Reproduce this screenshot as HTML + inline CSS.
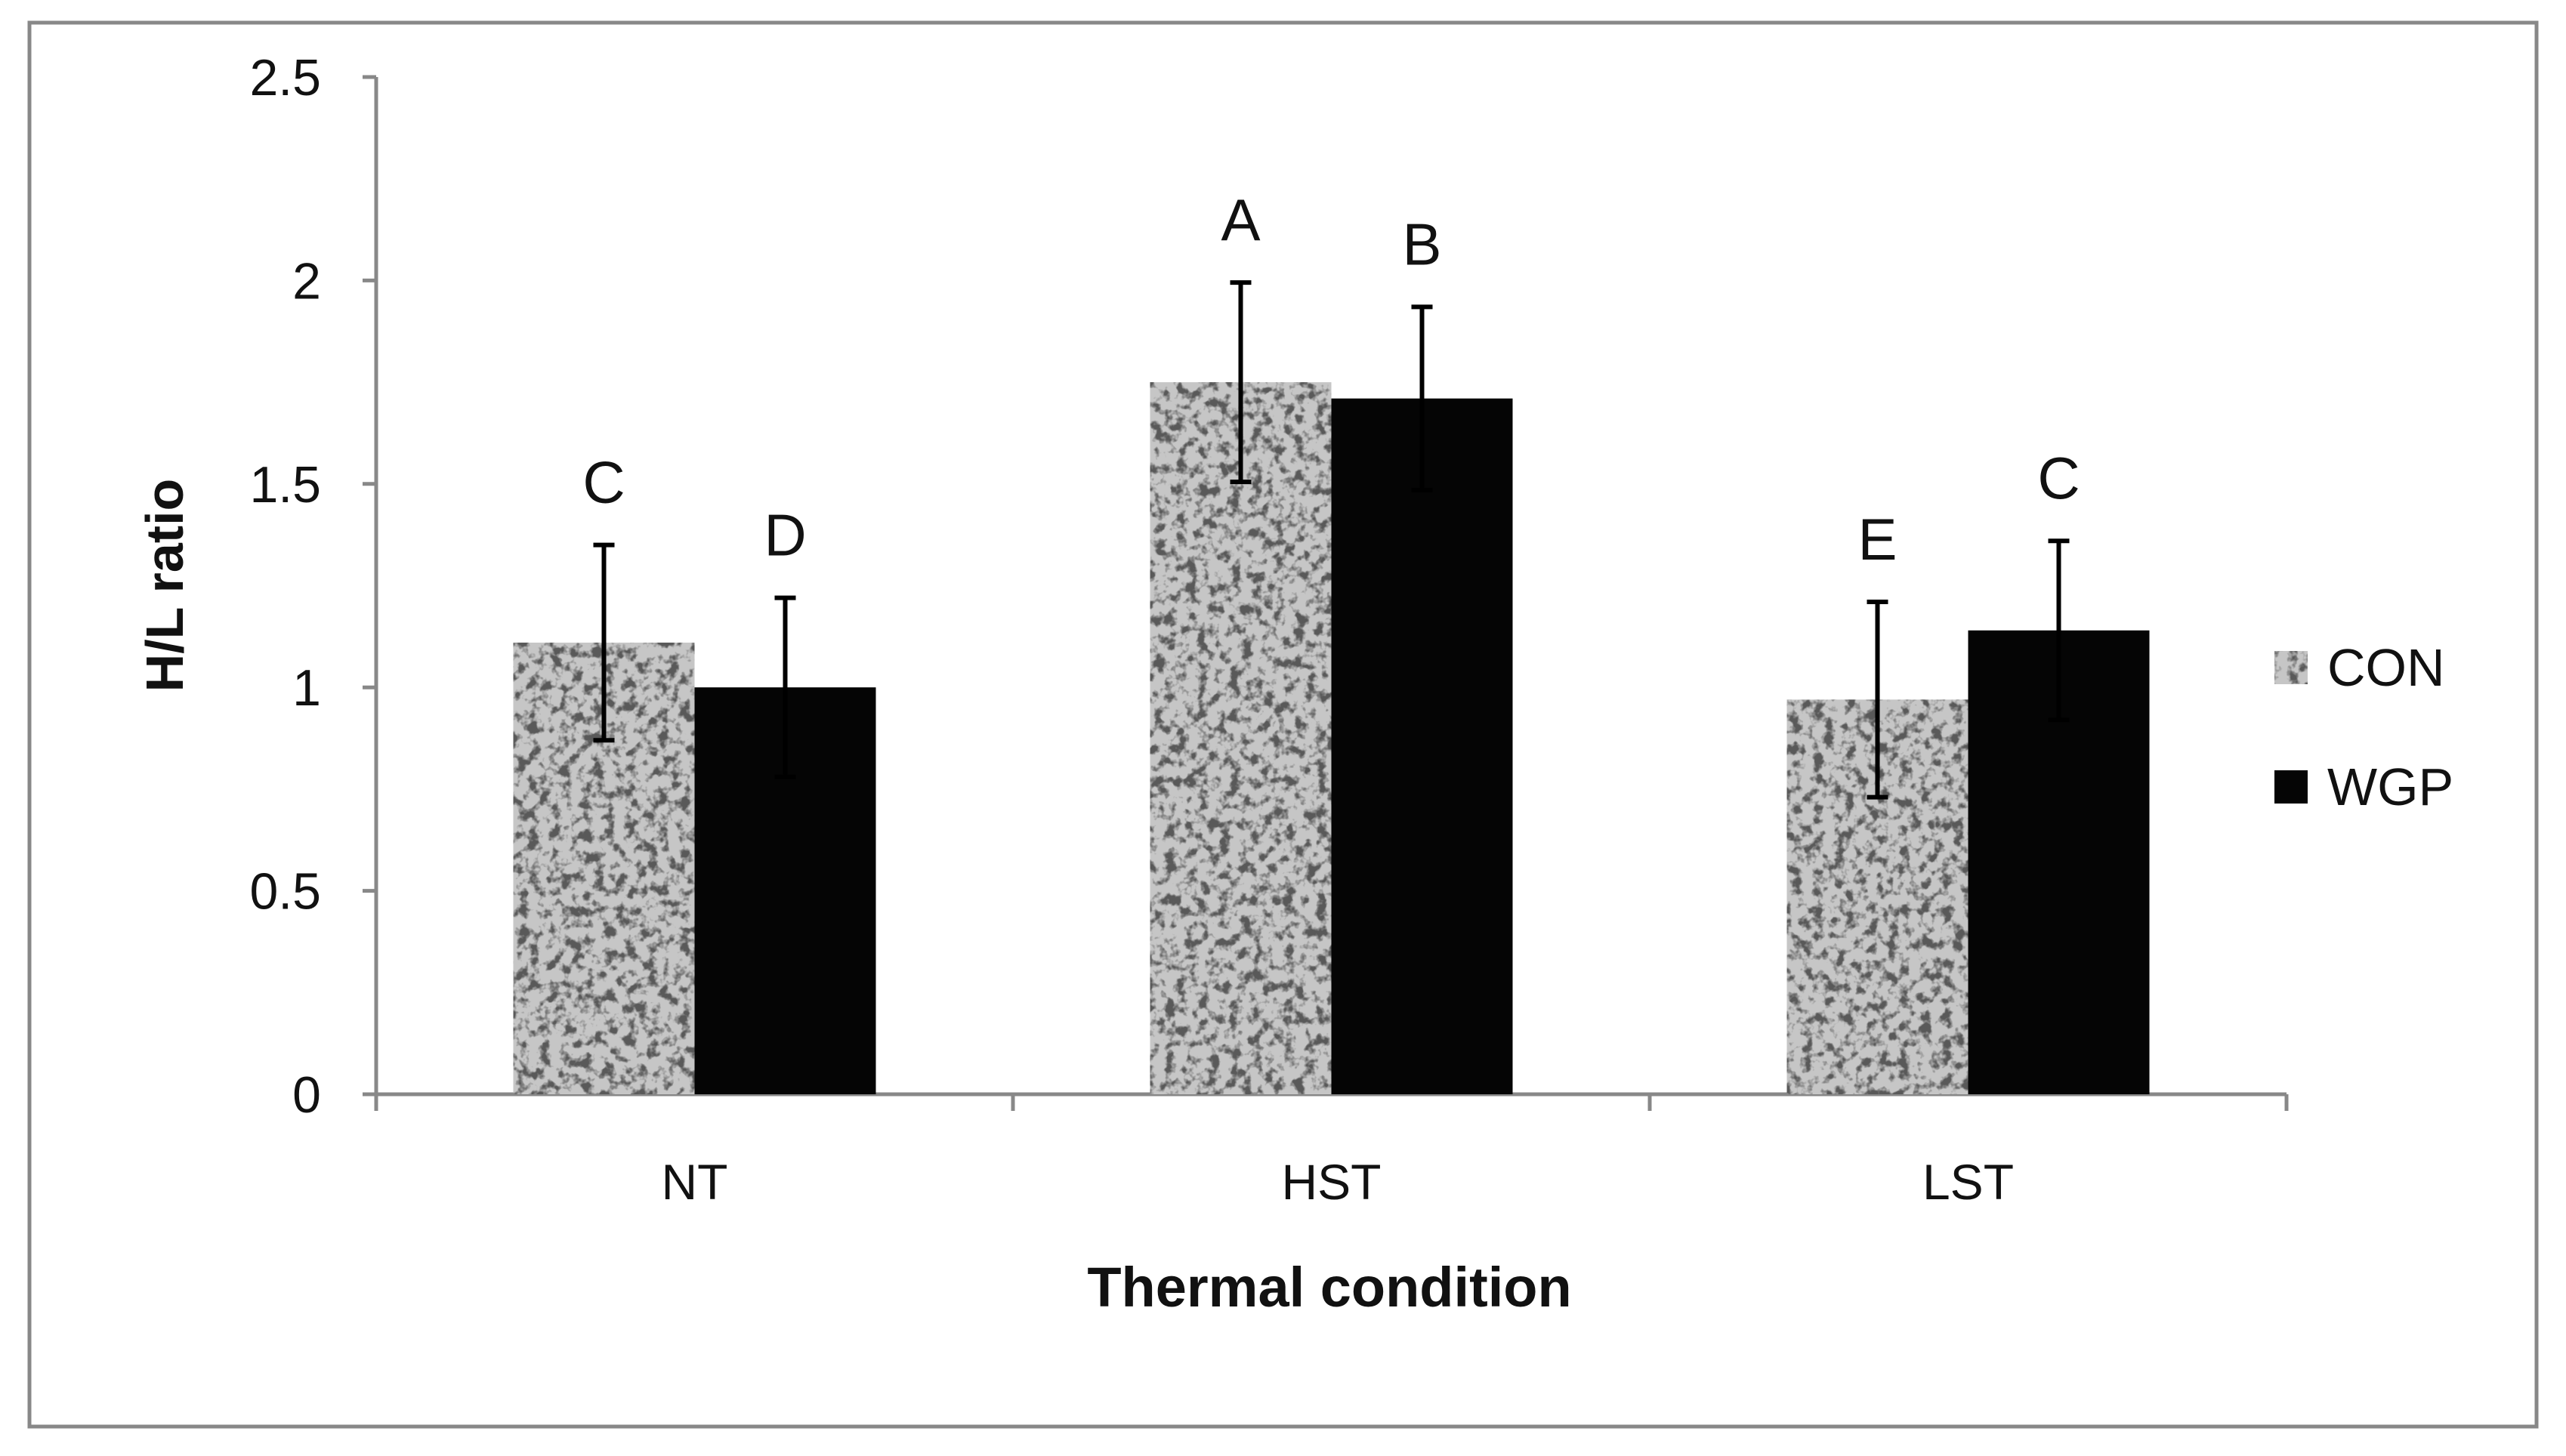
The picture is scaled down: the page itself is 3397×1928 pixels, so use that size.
<!DOCTYPE html>
<html><head><meta charset="utf-8"><style>
html,body{margin:0;padding:0;background:#fff;}
svg{display:block;font-family:"Liberation Sans",sans-serif;}
</style></head><body>
<svg id="chart" width="3397" height="1928" viewBox="0 0 3397 1928" xmlns="http://www.w3.org/2000/svg">
<defs>
<filter id="noise" x="0" y="0" width="100%" height="100%" color-interpolation-filters="sRGB">
<feTurbulence type="fractalNoise" baseFrequency="0.07" numOctaves="3" seed="4" result="t"/>
<feColorMatrix type="matrix" values="0 0 0 0 0.35  0 0 0 0 0.35  0 0 0 0 0.35  5 0 0 0 -2.4" in="t" result="c"/>
<feComposite in="c" in2="SourceGraphic" operator="in"/>
</filter>
</defs>
<rect x="39" y="30" width="3319" height="1859" fill="#fff" stroke="#888" stroke-width="5"/>
<g id="plot"></g>
</svg>
<script>
const categories = ["NT","HST","LST"];
const conValues = [1.11, 1.75, 0.97];
const wgpValues = [1.0, 1.71, 1.14];
const conErr = [0.24, 0.245, 0.24];
const wgpErr = [0.22, 0.225, 0.22];
const conLetters = ["C","A","E"];
const wgpLetters = ["D","B","C"];
const yTicks = [0, 0.5, 1, 1.5, 2, 2.5];
const yTickLabels = ["0","0.5","1","1.5","2","2.5"];

const NS = "http://www.w3.org/2000/svg";
const g = document.getElementById('plot');
const X0 = 498, X1 = 3027, Y0 = 1449, YTOP = 102;
const catW = (X1 - X0) / categories.length;
const barW = 240;
function y(v){ return Y0 - (v / 2.5) * (Y0 - YTOP); }
function cx(i){ return X0 + catW * (i + 0.5); }
function mk(tag, attrs, parent){ const e = document.createElementNS(NS, tag); for (const k in attrs) e.setAttribute(k, attrs[k]); (parent||g).appendChild(e); return e; }

let ax = mk('line', {x1:X0, y1:YTOP, x2:X0, y2:Y0+16, stroke:'#888', 'stroke-width':5});


yTicks.forEach((t, i) => {
  const tk = mk('line', {x1:X0-18, y1:y(t), x2:X0, y2:y(t), stroke:'#888', 'stroke-width':5});
  
  
  const tl = mk('text', {x:425, y:y(t)+24, 'text-anchor':'end', 'font-size':68, fill:'#111'});
  tl.textContent = yTickLabels[i];
  
  
});
let xa = mk('line', {x1:X0, y1:Y0, x2:X1, y2:Y0, stroke:'#888', 'stroke-width':5});


for (let i = 0; i <= categories.length; i++) {
  const tk = mk('line', {x1:X0+catW*i, y1:Y0, x2:X0+catW*i, y2:Y0+22, stroke:'#888', 'stroke-width':5});
  
  
}
categories.forEach((c, i) => {
  const tl = mk('text', {x:cx(i), y:1588, 'text-anchor':'middle', 'font-size':66, fill:'#111'});
  tl.textContent = c;
  
  
  const series = [[conValues, conErr, conLetters, cx(i)-barW, 'con'], [wgpValues, wgpErr, wgpLetters, cx(i), 'wgp']];
  series.forEach(([vals, errs, lets, bx, key]) => {
    const v = vals[i], e = errs[i], mid = bx + barW/2;
    let b;
    if (key === 'con') {
      b = mk('rect', {x:bx, y:y(v), width:barW, height:Y0-y(v), fill:'#c6c6c6'});
      const n = mk('rect', {x:bx, y:y(v), width:barW, height:Y0-y(v), fill:'#fff', filter:'url(#noise)'});
      
      
    } else {
      b = mk('rect', {x:bx, y:y(v), width:barW, height:Y0-y(v), fill:'#050505'});
    }
    
    
    const eb = mk('path', {d:`M${mid},${y(v+e)}V${y(v-e)}M${mid-14},${y(v+e)}H${mid+14}M${mid-14},${y(v-e)}H${mid+14}`, stroke:'#000', 'stroke-width':6, fill:'none'});
    
    
    const lt = mk('text', {x:mid, y:y(v+e)-56, 'text-anchor':'middle', 'font-size':78, fill:'#111'});
    lt.textContent = lets[i];
    
    
  });
});
let yt = mk('text', {x:0, y:0, transform:'translate(242,775) rotate(-90)', 'text-anchor':'middle', 'font-size':70, 'font-weight':'bold', fill:'#111'});
yt.textContent = 'H/L ratio';


let xt = mk('text', {x:1760, y:1730, 'text-anchor':'middle', 'font-size':74, 'font-weight':'bold', fill:'#111'});
xt.textContent = 'Thermal condition';


let l1 = mk('rect', {x:3011, y:862, width:44, height:44, fill:'#c6c6c6'});


let l1n = mk('rect', {x:3011, y:862, width:44, height:44, fill:'#fff', filter:'url(#noise)'});


let l1t = mk('text', {x:3081, y:908, 'font-size':70, fill:'#111'});
l1t.textContent = 'CON';


let l2 = mk('rect', {x:3011, y:1020, width:44, height:44, fill:'#050505'});


let l2t = mk('text', {x:3081, y:1066, 'font-size':70, fill:'#111'});
l2t.textContent = 'WGP';


</script>
</body></html>
